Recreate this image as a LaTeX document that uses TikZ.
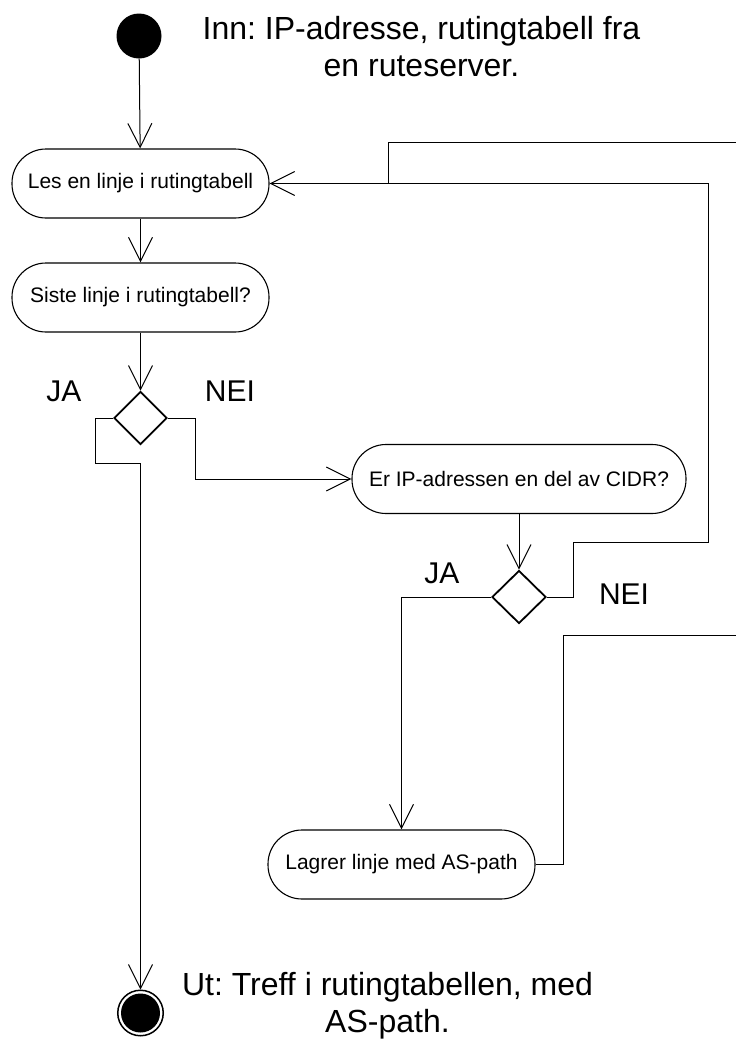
\documentclass[tikz,border=0pt]{standalone}
\usepackage{fontspec}
\setmainfont[Ligatures=CommonOff]{Liberation Sans}
\usetikzlibrary{arrows.meta,shapes.geometric}
\frenchspacing

\begin{document}
\begin{tikzpicture}[x=1pt,y=-1pt,
  activity/.style={draw, line width=1.1pt, rectangle, rounded corners=34pt,
    minimum height=69pt, inner sep=0pt, font=\fontsize{21}{25}\selectfont},
  choice/.style={draw, diamond, line width=1.8pt, inner sep=0pt,
    minimum width=53pt, minimum height=53pt},
  flow/.style={line width=1pt, -{Straight Barb[length=24pt,width=24pt]}},
  link/.style={line width=1pt},
  tag/.style={font=\fontsize{30}{37}\selectfont, inner sep=0pt},
  note/.style={font=\fontsize{32}{37}\selectfont, inner sep=0pt, align=center},
]
\useasboundingbox (0,0) rectangle (736,1045);

% start and end states
\node[circle, fill, minimum size=45pt, inner sep=0pt] (start) at (139,36) {};
\node[circle, draw, line width=1.5pt, minimum size=45.5pt, inner sep=0pt] (stop) at (140.5,1013) {};
\fill (stop.center) circle (19.5);

% activities
\node[activity, minimum width=257pt] (read)  at (140.5,183.5) {Les en linje i rutingtabell};
\node[activity, minimum width=257pt] (last)  at (140.5,297.5) {Siste linje i rutingtabell?};
\node[choice] (d1) at (140.5,418) {};
\node[activity, minimum width=334pt] (cidr)  at (519,479) {Er IP-adressen en del av CIDR?};
\node[choice, minimum width=54pt] (d2) at (519,597) {};
\node[activity, minimum width=267pt] (store) at (401.5,864.5) {Lagrer linje med AS-path};

% input / output notes
\node[note] (inn) at (421.5,47) {Inn: IP-adresse, rutingtabell fra\\en ruteserver.};
\node[note] (ut) at (387.5,1006) {Ut: Tref{}f i rutingtabellen, med\\AS-path.};

% guard labels
\node[tag] (ja1)  at (64,391)  {JA};
\node[tag] (nei1) at (230,391) {NEI};
\node[tag] (ja2)  at (442,573) {JA};
\node[tag] (nei2) at (624,594) {NEI};

% control flow
\draw[flow] (start) -- (read);
\draw[flow] (read) -- (last);
\draw[flow] (last) -- (d1);

\coordinate (jaL) at (95,463);
\draw[flow] (d1.west) -| (jaL) -- (jaL -| stop) -- (stop);

\draw[flow] (d1.east) -- ++(28,0) |- (cidr.west);
\draw[flow] (cidr) -- (d2);
\draw[flow] (d2.west) -| (store.north);

\coordinate (backA) at (573,542);
\coordinate (backB) at (708,183.5);
\draw[flow] (d2.east) -| (backA) -| (backB) -- (read.east);

% loop from the store step back to the top, routed past the right edge
\begin{scope}
  \clip (0,0) rectangle (736,1045);
  \coordinate (joint) at (388,183.5);
  \draw[link] (store.east) -- ++(28,0) |- (780,635) -- (780,142) -| (joint);
\end{scope}
\end{tikzpicture}
\end{document}
